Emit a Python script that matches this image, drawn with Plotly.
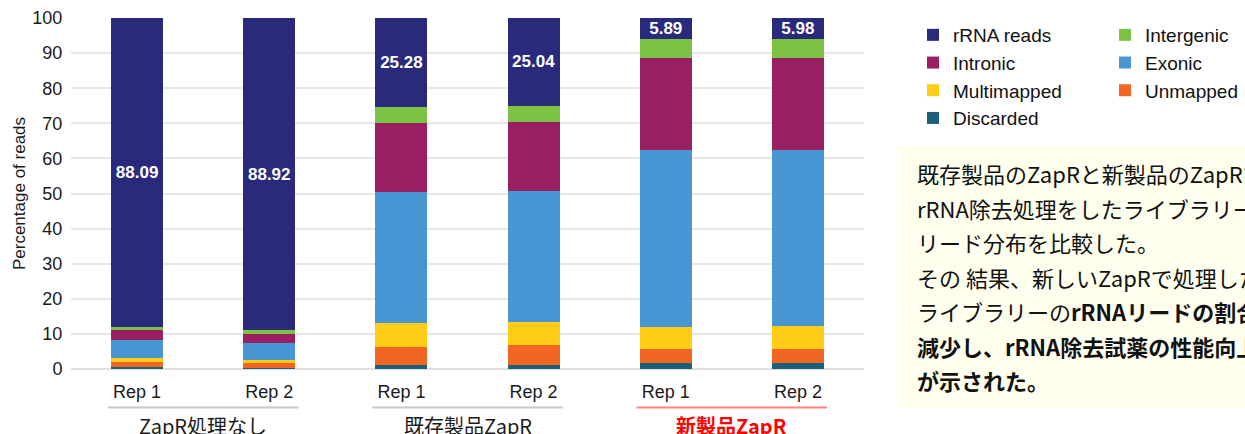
import plotly.graph_objects as go

# ---------------- data ----------------
rep_labels = ["Rep 1", "Rep 2", "Rep 1", "Rep 2", "Rep 1", "Rep 2"]
group_labels = ["ZapR処理なし", "既存製品ZapR", "新製品ZapR"]

discarded = [0.5, 0.4, 1.2, 1.2, 1.7, 1.7]
unmapped = [1.5, 1.3, 5.2, 5.5, 4.1, 4.1]
multimapped = [1.0, 0.8, 6.7, 6.75, 6.3, 6.5]
exonic = [5.3, 5.0, 37.4, 37.35, 50.3, 50.1]
intronic = [2.7, 2.6, 19.6, 19.6, 26.3, 26.3]
intergenic = [0.91, 0.98, 4.62, 4.56, 5.41, 5.32]
rrna = [88.09, 88.92, 25.28, 25.04, 5.89, 5.98]

y_ticks = [0, 10, 20, 30, 40, 50, 60, 70, 80, 90, 100]

note_lines = [
    "既存製品のZapRと新製品のZapRで",
    "rRNA除去処理をしたライブラリー",
    "リード分布を比較した。",
    "その 結果、新しいZapRで処理した",
    "ライブラリーの<b>rRNAリードの割合が</b>",
    "<b>減少し、rRNA除去試薬の性能向上</b>",
    "<b>が示された。</b>",
]

# ---------------- layout helpers ----------------
W, H = 1245, 434
PL, PR, PT, PB = 71, 864, 18, 369  # plot area in px


def px2x(px):
    return (px - PL) / (PR - PL)


def px2y(py):
    return (PB - py) / (PB - PT)


xs = list(range(len(rep_labels)))
FONT = "Liberation Sans, Arial, Noto Sans CJK JP"
CJK = "Noto Sans CJK JP, Liberation Sans"

# name, values, colour, legend, rank within legend
series = [
    ("Discarded", discarded, "#1B5F79", "legend", 4),
    ("Unmapped", unmapped, "#F26522", "legend2", 3),
    ("Multimapped", multimapped, "#FFCD17", "legend", 3),
    ("Exonic", exonic, "#4895D3", "legend2", 2),
    ("Intronic", intronic, "#9A1E62", "legend", 2),
    ("Intergenic", intergenic, "#7DC243", "legend2", 1),
    ("rRNA reads", rrna, "#2A2A7C", "legend", 1),
]

fig = go.Figure()
for name, vals, color, leg, rank in series:
    kw = {}
    if name == "rRNA reads":
        kw = dict(
            text=[f"{v:.2f}" for v in vals],
            textposition="inside",
            insidetextanchor="middle",
            textangle=0,
            constraintext="none",
            textfont=dict(color="white", size=17, family=FONT, weight="bold"),
        )
    fig.add_trace(go.Bar(
        x=xs, y=vals, name=name, marker=dict(color=color, line=dict(width=0)),
        legend=leg, legendrank=rank, hoverinfo="skip", **kw
    ))

# group underline shapes and labels
group_line_colors = ["#C8C8C8", "#C8C8C8", "#FF8080"]
group_text_colors = ["#1a1a1a", "#1a1a1a", "#FF0000"]
shapes = []
annotations = []
for gi, g in enumerate(group_labels):
    a, b = xs[2 * gi], xs[2 * gi + 1]
    shapes.append(dict(type="line", xref="x", yref="paper",
                       x0=a - 0.22, x1=b + 0.22, y0=px2y(407.5), y1=px2y(407.5),
                       line=dict(color=group_line_colors[gi], width=2)))
    txt = f"<b>{g}</b>" if gi == 2 else g
    annotations.append(dict(xref="x", yref="paper", x=(a + b) / 2, y=px2y(425),
                            text=txt, showarrow=False, xanchor="center", yanchor="middle",
                            font=dict(size=20, color=group_text_colors[gi], family=CJK)))

# note box
shapes.append(dict(type="rect", xref="paper", yref="paper", layer="below",
                   x0=px2x(897), x1=px2x(1260), y0=px2y(408), y1=px2y(146),
                   fillcolor="#FFFFEE", line=dict(width=0)))
for i, line in enumerate(note_lines):
    annotations.append(dict(xref="paper", yref="paper", x=px2x(915), y=px2y(173 + i * 34.5),
                            text=line, showarrow=False, xanchor="left", yanchor="middle",
                            font=dict(size=22, color="#111111", family=CJK)))

legend_common = dict(orientation="v", traceorder="normal", yanchor="top", xanchor="left",
                     font=dict(size=19, family=FONT, color="#111111"),
                     bgcolor="rgba(0,0,0,0)", itemclick=False, itemdoubleclick=False)

fig.update_layout(
    width=W, height=H,
    margin=dict(l=PL, r=W - PR, t=PT, b=H - PB, autoexpand=False),
    paper_bgcolor="white", plot_bgcolor="white",
    barmode="stack", bargap=0.607,
    font=dict(family=FONT, color="#1a1a1a"),
    showlegend=True,
    legend=dict(x=px2x(913), y=px2y(16), **legend_common),
    legend2=dict(x=px2x(1105), y=px2y(16), **legend_common),
    xaxis=dict(range=[-0.5, 5.5], tickvals=xs, ticktext=rep_labels,
               ticks="outside", ticklen=6, tickcolor="rgba(0,0,0,0)",
               tickfont=dict(size=18, family=FONT, color="#1a1a1a"),
               showgrid=False, zeroline=False, showline=False, fixedrange=True),
    yaxis=dict(range=[0, 100], tickvals=y_ticks, showgrid=True, gridcolor="#E6E6E6",
               gridwidth=1.5, zeroline=True, zerolinecolor="#E0E0E0", zerolinewidth=1.5,
               ticks="outside", ticklen=4, tickcolor="rgba(0,0,0,0)",
               tickfont=dict(size=18, family=FONT, color="#1a1a1a"),
               title=dict(text="Percentage of reads", font=dict(size=17, family=FONT, color="#1a1a1a"),
                          standoff=2),
               fixedrange=True),
    shapes=shapes,
    annotations=annotations,
)

fig.write_html("out.html", config={"displayModeBar": False},
               post_script="document.body.style.margin='0';")
